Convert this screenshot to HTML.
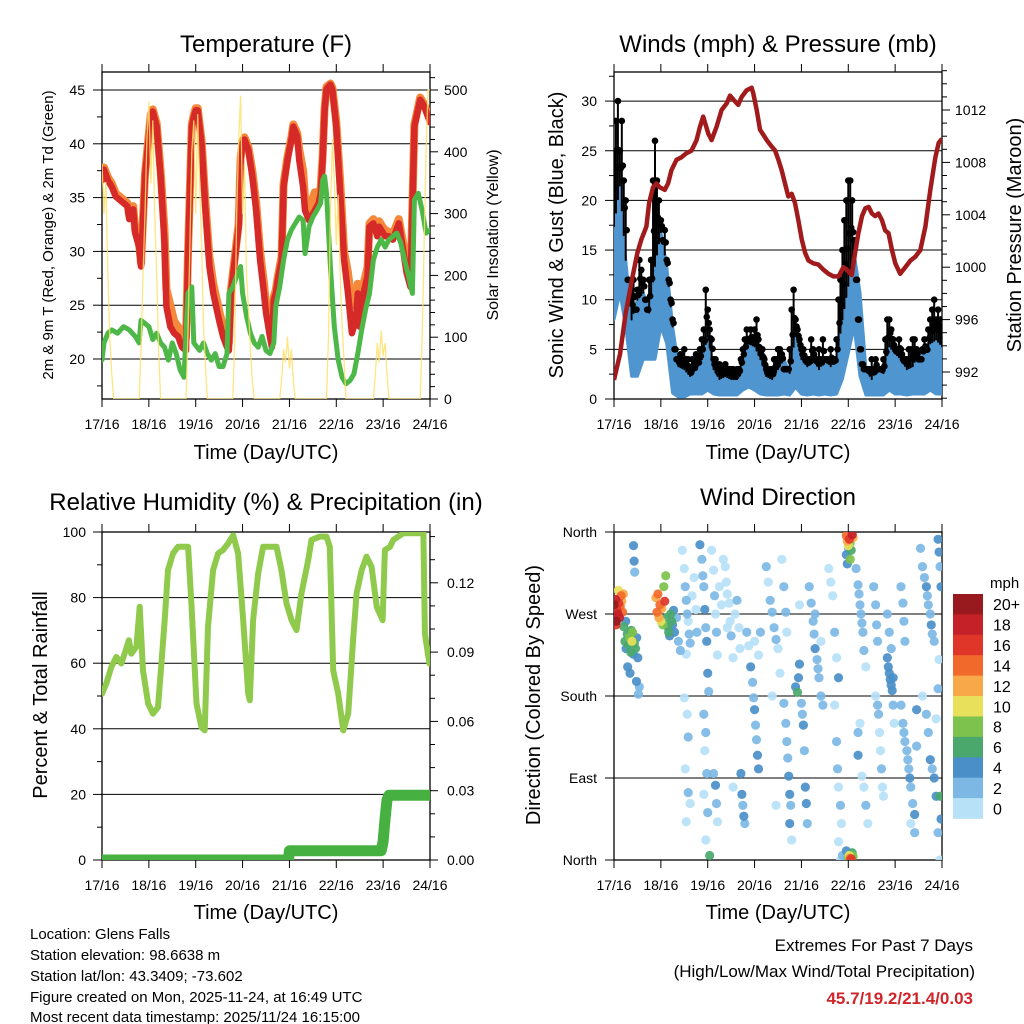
<!DOCTYPE html>
<html><head><meta charset="utf-8"><style>
html,body{margin:0;padding:0;background:#fff;}
svg{display:block;font-family:"Liberation Sans",Arial,sans-serif;}
</style></head><body>
<svg id="chart" xmlns="http://www.w3.org/2000/svg" width="1024" height="1024" viewBox="0 0 1024 1024">
<rect x="0" y="0" width="1024" height="1024" fill="#fff"/>
<defs>
<clipPath id="c1"><rect x="102" y="72" width="328" height="327"/></clipPath>
<clipPath id="c2"><rect x="614" y="72" width="328" height="327"/></clipPath>
<clipPath id="c3"><rect x="102" y="532" width="328" height="328"/></clipPath>
<clipPath id="c4"><rect x="614" y="532" width="328" height="328"/></clipPath>
</defs>
<g font-size="24" text-anchor="middle" fill="#000">
<text x="266" y="52">Temperature (F)</text>
<text x="778" y="52">Winds (mph) &amp; Pressure (mb)</text>
<text x="266" y="510">Relative Humidity (%) &amp; Precipitation (in)</text>
<text x="778" y="505">Wind Direction</text>
</g>
<g font-size="20" text-anchor="middle">
<text x="266" y="459">Time (Day/UTC)</text>
<text x="778" y="459">Time (Day/UTC)</text>
<text x="266" y="919">Time (Day/UTC)</text>
<text x="778" y="919">Time (Day/UTC)</text>
<text transform="translate(48,235) rotate(-90)" dy="5" font-size="15">2m &amp; 9m T (Red, Orange) &amp; 2m Td (Green)</text>
<text transform="translate(492,235) rotate(-90)" dy="6" font-size="16">Solar Insolation (Yellow)</text>
<text transform="translate(556,235) rotate(-90)" dy="7">Sonic Wind &amp; Gust (Blue, Black)</text>
<text transform="translate(1014,235) rotate(-90)" dy="7">Station Pressure (Maroon)</text>
<text transform="translate(40,695) rotate(-90)" dy="7">Percent &amp; Total Rainfall</text>
<text transform="translate(533,695) rotate(-90)" dy="7">Direction (Colored By Speed)</text>
</g>
<g font-size="15">
<text x="30" y="939">Location: Glens Falls</text>
<text x="30" y="960">Station elevation: 98.6638 m</text>
<text x="30" y="981">Station lat/lon: 43.3409; -73.602</text>
<text x="30" y="1002">Figure created on Mon, 2025-11-24, at 16:49 UTC</text>
<text x="30" y="1022">Most recent data timestamp: 2025/11/24 16:15:00</text>
</g>
<g font-size="17" text-anchor="end">
<text x="973" y="951">Extremes For Past 7 Days</text>
<text x="975" y="977">(High/Low/Max Wind/Total Precipitation)</text>
<text x="973" y="1004" fill="#d0262b" font-weight="bold">45.7/19.2/21.4/0.03</text>
</g>
</svg>
<script>
// ---------- data ----------
const dayTickLabels = ["17/16","18/16","19/16","20/16","21/16","22/16","23/16","24/16"];
const tempTickLabels = [20,25,30,35,40,45];
const solarTickLabels = [0,100,200,300,400,500];
const windTickLabels = [0,5,10,15,20,25,30];
const pressTickLabels = [992,996,1000,1004,1008,1012];
const rhTickLabels = [0,20,40,60,80,100];
const rainTickLabels = [0.00,0.03,0.06,0.09,0.12];
const dirTickLabels = ["North","East","South","West","North"];
const speedBinLabels = ["0","2","4","6","8","10","12","14","16","18","20+"];
const speedBinColors = ["#b6e1f7","#7db8e5","#4a8fc8","#4aa86d","#7dc24c","#e8e05a","#f8a848","#f26a2b","#e0362a","#c42128","#981a1e"];

const redHours = [0,1,3,5,7,9,11,13,14,16,17,19,20,22,24,25,26,28,30,32,33,35,37,39,41,43,44,46,47,48,49,51,53,55,57,60,62,64,65,66,68,70,71,72,73,75,77,79,81,83,84,86,87,88,89,90,92,93,95,97,98,100,101,103,104,106,108,109,111,112,113,114,115,117,118,120,122,124,126,128,130,131,132,134,136,137,139,141,142,144,145,147,149,152,154,156,158,160,163,165,168];
const redTemps = [36.6,37.6,36.6,36,35.1,34.8,34.5,34.2,33,33.9,31.7,30.4,28.6,37,40.7,42.5,43,41.6,37,30.8,24.9,23,22.4,22.1,21.1,20.8,29.2,41.6,42.5,43.1,43.1,40,33.8,28.6,26.1,23.6,22.1,21.1,20.8,26.1,29.2,32.3,38.5,40,40.4,39.4,37,33.8,29.2,26.1,24.3,22.1,21.1,25.5,26.1,27.3,29.2,36,38.5,40.4,41.6,40.7,38.5,36,33.8,32.9,33.5,33.8,34.5,35.4,38.5,43.1,45.1,45.5,45,41.6,35.4,29.2,26.1,22.4,23.6,26.1,23,26.1,27.7,32.3,32.6,31.4,32.3,31.7,31.4,31.4,31.1,32.6,30.4,28,26.7,41.6,44.1,43.5,42];
const orangeTemps = [36.9,37.8,36.9,36.3,35.4,35.1,34.8,34.5,33.3,34.2,32,30.7,28.9,37.2,41,42.7,43.2,41.9,37.5,32,26.5,25,23.5,23,22.5,22,29.5,41.8,42.7,43.3,43.3,40.3,34.5,29.5,27,24.5,23,22,21.5,26.4,29.5,32.6,38.7,40.2,40.6,39.7,37.5,34.5,30,27,25,23,22,25.8,26.4,27.6,29.5,36.3,38.8,40.6,41.8,41,39.5,37.5,35,34,35,35.5,35,36,38.8,43.3,45.3,45.6,45.2,42,36.5,30,28,25,25,27,25.5,27,28.5,32.6,33,32,32.8,32.2,32,31.8,31.6,33,31,29,27,41.8,44.3,43.7,42.2];
const dewHours = [0,1,3,5,8,11,14,17,19,20,22,24,26,28,30,32,34,36,38,40,42,44,46,47,50,52,54,56,58,60,62,64,65,67,69,71,72,74,76,78,80,82,84,86,88,89,91,93,95,97,99,101,103,104,106,108,110,112,113,114,115,117,119,121,123,125,127,129,131,133,135,137,139,141,143,145,147,149,151,153,155,157,159,160,162,164,166,168];
const dewTemps = [19.9,21.5,22.4,22.7,22.4,23,22.7,22.1,21.5,23.6,23.3,23,21.8,22.4,21.5,21.1,19.9,21.5,20.5,19,18.3,26.1,26.7,21.5,20.8,21.5,20.5,19.9,20.5,19.3,19.3,20.5,26.1,26.7,27.7,28.6,26.1,24,22.4,21.5,21.1,22.1,20.8,20.5,21.5,24.9,26.7,29.2,31.1,32,32.6,33.2,32.9,29.8,32.3,33.2,33.8,34.5,36.6,37,35.4,28.6,23,19.9,18.3,17.7,18,18.6,20.5,22.7,24.6,26.1,29.2,30.4,31.1,30.4,31.1,31.4,31.7,30.8,29.2,27.7,26.1,34.8,35.4,33.8,31.7,32];
const solarHours = [0,1,2,3,4,5,6,19,20,21,22,23,24,25,26,27,28,29,30,43,44,45,46,47,48,49,50,51,52,53,54,67,68,69,70,71,72,73,74,75,76,77,78,91,92,93,94,95,96,97,98,99,115,116,117,118,119,120,121,122,123,124,125,139,140,141,142,143,144,145,146,147,163,164,165,166,167,168];
const solarVals = [380,300,350,200,100,40,0,0,80,200,300,420,480,350,450,300,200,80,0,0,100,250,400,450,300,460,350,250,120,50,0,0,100,300,420,490,300,380,200,150,80,30,0,0,30,80,60,100,50,80,30,0,0,100,300,420,350,250,330,200,120,60,0,0,40,90,60,110,70,90,40,0,0,100,250,400,500,500];

const windHours = [0,3,6,9,12,15,18,21,24,27,30,33,36,39,42,45,48,51,54,57,60,63,66,69,72,75,78,81,84,87,90,93,96,99,102,105,108,111,114,117,120,123,126,129,132,135,138,141,144,147,150,153,156,159,162,165,168];
const windHi = [17.4,21.5,14,8,10,10.7,8.7,13.4,16.8,13.4,7.3,3.3,3,2.3,3,4,6.3,3,2,2.3,2,2,4,5.6,5.3,4,2.3,2,3,4,2.6,6.6,4,3.3,4,3,4,3.3,4,8,11.4,14.7,10.7,3,2,3.3,2.6,5.3,4.6,4,3,3.3,4.6,4.6,5.6,6,5.3];
const windLo = [8,10.7,7.3,2.3,2.3,4,4,4,7.3,5.6,0.6,0.2,0.2,0.5,0.5,0.5,0.9,0.5,0.4,0.4,0.4,0.4,0.9,1.2,0.9,0.5,0.4,0.4,0.4,0.5,0.4,1.2,0.5,0.4,0.5,0.4,0.5,0.4,0.5,2,4.6,7.3,2.3,0.4,0.4,0.4,0.4,0.9,0.5,0.5,0.4,0.5,0.5,0.5,0.9,0.5,0.5];
const gustHourly = [25,28,30,25,28,22,20, 12,10,11,12,9,11, 14,13,12,10,9,12, 14,22,26,22,20,18, 16,17,14,12,10,8, 5,4,4,4.5,4,5, 4,4,3,4,3.5,4.5, 4,5,6,7,11,9, 7,6,4,4,3,3.5, 3,3,3.5,3,3,3, 3,2.5,3,3,4,5, 6,7,6,7,6,7, 8,6,5,5,4,3, 3,3,3,4,4,5, 5,4.5,3,3,3,5, 9,11,8,7,6,5, 5,4,4,4,6,5, 4,4,5,4,6,4, 4,4,5,4,4,6, 10,12,15,18,20,22, 22,20,16,12,8,5, 3.5,3,3,3,3,4, 3,4,3,3,3,4, 6,8,8,7,6,5, 5,6,5,4,4,4, 5,5,6,6,5,4, 4,5,6,5,7,8, 9,10,8,9,8,7];
const pressHours = [0,3.1,6,9.1,12,14,16.6,18,20,21.7,23.4,26,27.7,29.4,32,34.6,37.1,39.7,42.3,44,45.7,48.3,50,52.5,55.1,57.7,59.4,61.1,63.6,65.4,67.9,70.5,71.3,73.1,74.8,76.5,78.2,80.8,82.5,84.2,85.9,87.6,89.3,91,92.7,94.4,96.2,97.9,99.6,102.1,104.7,107.3,109.8,112.4,115,117.5,119.3,121.8,123.5,125.2,127,128.7,130.4,132.1,133.8,135.5,137.2,138.9,140.6,142.4,144.1,146.6,149.2,151.8,154.3,156.9,159.5,162,164.6,166.3,168];
const pressVals = [991.4,993.4,996.5,999,1001.1,1002.1,1003.1,1004.9,1006.1,1006.4,1006.1,1005.9,1006.4,1007.4,1008.2,1008.4,1008.7,1008.9,1009.7,1010.7,1011.5,1010.2,1009.7,1010.7,1012,1012.5,1013.1,1012.8,1012.4,1013,1013.5,1013.7,1013.3,1012,1010.5,1010.1,1009.7,1009.2,1008.9,1008.2,1007.4,1006.4,1005.4,1005.6,1004.9,1003.6,1002.1,1001.1,1000.5,1000.3,1000.2,999.8,999.5,999.3,999.3,1000,999.8,999.4,1001.1,1002.6,1003.9,1004.5,1004.6,1004.1,1003.9,1004.1,1003.6,1002.8,1002.6,1001.3,1000.3,999.5,1000,1000.5,1000.8,1001.3,1003.1,1005.9,1008.4,1009.5,1009.8];

const rhHours = [0,2.2,4.8,7.3,9.9,11.6,13.8,15,17.6,19.3,21,23.6,26.1,28.7,30.4,32.1,33.8,36.4,38.9,41.5,44.1,45.8,48.4,50.9,52.6,54.3,56.9,59.5,62,64.6,67.2,69.7,72.3,74.9,75.7,77.4,80,82.5,86,89.4,91.9,94.5,97.1,99.6,102.2,105.6,107.3,111.6,115,116.7,118.4,121,123.6,126.1,128.7,130.4,133,135.5,138.1,140.7,143.7,144.9,147.5,149.2,154.3,159.4,162.9,164.6,165.4,167.7];
const rhVals = [50.7,53.8,58.9,61.9,59.9,62.9,67,62.9,65,77.2,57.8,47.7,44.6,46.6,59.9,73.1,88.4,93.5,95.5,95.5,95.5,78.2,47.7,40.5,39.5,71.1,88.4,93.5,94.5,96.5,99,93.5,73.1,50.7,48.7,73.1,87.4,95.5,95.5,95.5,88.4,78.2,73.1,70.1,81.3,91.4,97.6,98.6,98.6,95.5,57.8,50.7,39.5,44.6,68,81.3,88.4,92.5,89.4,77.2,73.1,94.5,95.5,97.6,99.6,99.6,99.6,99.6,69,59.9];
const rainHours = [0,95.5,96,143,144,145,146,147,168];
const rainVals = [0,0,0.004,0.004,0.008,0.018,0.026,0.028,0.028];

// wind direction observations: [hour, degrees, mph]
const dirObs = [
[0,280,20],[0.4,268,19],[0.8,286,18],[1.2,262,20],[1.6,274,17],[2,270,18],[2.4,282,16],[2.8,266,19],[3.2,278,15],[3.6,290,14],[4,284,13],[4.4,272,14],[4.8,292,12],[1,258,16],[2.2,296,11],
[5,256,7],[5.6,240,6],[6.2,232,5],[6.8,248,6],[7.4,236,7],[8,244,8],[8.6,228,6],[9.2,240,10],[9.8,226,5],[10.4,238,6],[11,232,7],[11.6,244,5],[12.2,222,4],[7,212,4],[8.2,205,4],[9.5,250,9],[10,345,4],[10.3,328,4],[10.6,316,3],[11.5,196,4],[12.5,182,3],[13,190,3],[6,262,5],[8.8,252,7],
[21.5,288,12],[22,272,14],[22.5,292,14],[23,266,13],[23.5,280,15],[24,262,10],[24.5,276,12],[25,258,9],[25.5,300,8],[26,284,16],[26.5,312,8],[27,266,6],[27.5,256,6],[28,250,6],[28.5,246,5],[29,270,6],[29.5,262,7],[30,258,5],[30.5,274,4],[31,250,4],[32,266,3],[33,240,3],[34,230,2],
[35,340,1],[36,320,1],[36.5,300,2],[37,285,3],[37.5,270,2],[38,262,1],[38.5,248,2],[39,238,3],[37,226,1],[36,178,1],[37.5,160,1],[38,135,2],[36.5,100,1],[38,74,3],[39,62,1],[37,42,1],[40,290,1],[41,310,0],[42,275,1],[42.5,250,2],
[44,346,4],[45,330,3],[45.5,312,2],[46,300,3],[46.5,275,4],[47,255,3],[47.5,240,4],[48,205,4],[48.5,185,3],[46,160,2],[47,140,2],[46.5,120,1],[47.5,95,3],[46,72,1],[48,52,2],[47,22,1],[49,5,6],
[50,340,1],[51,318,1],[51.5,290,2],[52,270,1],[52.5,250,2],[53,225,1],[51,95,3],[52,82,4],[52.5,62,3],[53,42,1],[54,300,1],[55,280,0],
[56,330,0],[57,322,1],[57.5,305,0],[58,292,1],[59,282,0],[59.5,262,1],[60,246,2],[61,222,1],[58,255,0],[61,80,1],[62,270,1],
[63,285,2],[64,255,1],[64.5,232,1],[65,95,4],[65.5,72,4],[66,60,3],[66.5,48,4],[67,40,2],[68,250,2],[69,235,1],
[70,212,4],[71,195,3],[71.5,178,2],[72,165,4],[72.5,148,2],[73,132,3],[73.5,115,4],[74,100,4],[72,240,1],[74,225,1],[75,250,2],
[78,322,2],[79,305,1],[80,285,3],[81,272,2],[82,255,3],[83,242,2],[84,232,1],[85,205,1],[81,180,0],[83,60,0],
[86,330,1],[87,300,2],[88,272,3],[88.5,250,1],[87,172,2],[88,150,2],[88.5,130,3],[89,112,2],[89.5,92,4],[90,72,4],[90.5,60,3],[90,40,4],[91,22,1],
[93,190,5],[94,184,6],[94.5,200,4],[95,215,5],[96,172,3],[96.5,160,2],[97,148,4],[97.5,120,3],[98,80,4],[98.5,62,4],[99,40,2],[95,280,1],
[100,300,2],[101,282,3],[102,262,3],[102.5,248,2],[103,232,4],[104,220,3],[104.5,210,2],[105,200,3],[106,180,2],[107,170,2],[103,270,2],[106,240,1],
[110,320,1],[111,305,1],[112,290,1],[113,250,2],[114,222,1],[115,200,4],[113,170,1],[114,130,2],[114.5,100,2],[115,80,1],[116,60,2],[116.5,40,1],[115,20,1],[117,5,2],[116,0,1],
[119,356,14],[119.5,350,12],[120,345,10],[120.5,352,16],[121,348,8],[121.5,340,6],[119,335,4],[121,330,8],[122,357,18],[122.5,354,13],[120,342,3],[119.5,325,4],
[120,3,8],[120.5,5,10],[121,2,14],[121.5,1,16],[122,8,6],[119,10,4],[122.5,4,9],[118.5,2,2],
[124,320,3],[125,302,2],[125.5,292,3],[126,280,2],[126.5,270,3],[127,260,2],[127.5,250,3],[128,230,2],[129,212,1],[127,92,1],[128,80,1],[129,60,2],[130,40,1],[126,150,1],[125,115,4],[125,140,2],
[133,300,3],[134,280,2],[134.5,258,3],[135,240,2],[134,180,1],[135,170,3],[135.5,160,2],[136,140,1],[136.5,120,1],[137,100,2],[137.5,80,1],[138,70,1],
[140,222,4],[140.5,212,5],[141,205,4],[141.5,198,4],[142,192,5],[142.5,186,4],[141,250,3],[142,232,3],[143,170,2],[143.5,150,1],[140,270,3],[143,200,5],
[147,300,2],[148,282,3],[148.5,262,3],[149,240,2],[147,170,2],[148,150,3],[148.5,140,3],[149,130,3],[150,120,3],[150.5,110,3],[151,100,3],[151.5,90,4],[152,80,3],[153,62,2],[154,50,4],[152,40,1],[154,30,2],[155,165,4],[155,125,3],
[157,342,3],[158,322,2],[159,310,3],[160,300,4],[160.5,290,3],[161,280,2],[162,270,3],[162.5,258,4],[163,248,2],[164,240,3],[158,180,1],[160,160,2],[161,140,2],[162,110,4],[163,100,3],[164,90,4],[165,70,4],[166,30,3],[167,0,1],[166,352,5],[166.5,338,4],[167,322,2],[167.5,300,5],[166,188,2],[165,155,1],[166.5,220,1],[167.5,45,4],[167,70,7]
];
const dirHours = dirObs.map(p => p[0]);
const dirDegrees = dirObs.map(p => p[1]);
const dirSpeeds = dirObs.map(p => p[2]);

// ---------- scales ----------
const X1 = h => 102 + h / 168 * 328;
const X2 = h => 614 + h / 168 * 328;
const yTemp = v => 359 - (v - 20) * 10.76;
const ySolar = v => 399 - v * 0.618;
const yWind = v => 399 - v * 9.93;
const yPress = p => 372 - (p - 992) * 13.1;
const yRH = v => 860 - v * 3.28;
const yRain = r => 860 - r / 0.03 * 69.3;
const yDir = d => 860 - d / 360 * 328;

const NS = "http://www.w3.org/2000/svg";
const svg = document.getElementById("chart");
function add(tag, attrs, parent) {
  const e = document.createElementNS(NS, tag);
  for (const k in attrs) e.setAttribute(k, attrs[k]);
  (parent || svg).appendChild(e);
  return e;
}
function pathOf(pts) { return "M" + pts.map(p => p[0].toFixed(1) + "," + p[1].toFixed(1)).join("L"); }
function interp(hs, vs, h) {
  for (let i = 1; i < hs.length; i++) if (h <= hs[i]) { const f = (h - hs[i-1]) / (hs[i] - hs[i-1]); return vs[i-1] + f * (vs[i] - vs[i-1]); }
  return vs[vs.length - 1];
}

function frame(x0, y0, x1, y1, name) {
  const g = add("g", {});
  
  
  const r = add("rect", {x: x0, y: y0, width: x1 - x0, height: y1 - y0, fill: "none", stroke: "#000", "stroke-width": 1.3}, g);
  
  
  return g;
}
function grid(g, x0, x1, y, name) {
  const l = add("line", {x1: x0, x2: x1, y1: y, y2: y, stroke: "#000", "stroke-width": 1}, g);
  
  
}
function tick(g, xa, ya, xb, yb) {
  const l = add("line", {x1: xa, y1: ya, x2: xb, y2: yb, stroke: "#000", "stroke-width": 1}, g);
  
  
}
function label(g, x, y, txt, anchor, name, size) {
  const t = add("text", {x: x, y: y, "text-anchor": anchor, "font-size": size || 14}, g);
  t.textContent = txt;
  
  
}
function xAxis(g, X, yTop, yBot) {
  dayTickLabels.forEach((lab, i) => {
    const x = X(i * 24);
    tick(g, x, yBot, x, yBot + 8);
    tick(g, x, yTop, x, yTop - 8);
    label(g, x, yBot + 30, lab, "middle", "x-tick-label");
  });
}

// Panel 1
const g1 = frame(102, 72, 430, 399, "temperature-panel");
tempTickLabels.forEach(v => { grid(g1, 102, 430, yTemp(v), "temp-gridline"); tick(g1, 93, yTemp(v), 102, yTemp(v)); label(g1, 85, yTemp(v) + 5, String(v), "end", "temp-y-tick-label"); });
for (let v = 17.5; v <= 46; v += 2.5) if (v % 5) tick(g1, 97, yTemp(v), 102, yTemp(v));
solarTickLabels.forEach(v => { tick(g1, 430, ySolar(v), 438, ySolar(v)); label(g1, 444, ySolar(v) + 5, String(v), "start", "solar-y-tick-label"); });
for (let v = 20; v <= 520; v += 20) if (v % 100) tick(g1, 430, ySolar(v), 435, ySolar(v));
xAxis(g1, X1, 72, 399);
const p1 = add("g", {"clip-path": "url(#c1)", fill: "none", "stroke-linejoin": "round", "stroke-linecap": "round"}, g1);


let el = add("path", {d: pathOf(redHours.map((h, i) => [X1(h), yTemp(orangeTemps[i])])), stroke: "#f5883a", "stroke-width": 8}, p1);


el = add("path", {d: pathOf(redHours.map((h, i) => [X1(h), yTemp(redTemps[i])])), stroke: "#d52a28", "stroke-width": 6.5}, p1);


el = add("path", {d: pathOf(dewHours.map((h, i) => [X1(h), yTemp(dewTemps[i])])), stroke: "#4db848", "stroke-width": 5}, p1);


el = add("path", {d: pathOf(solarHours.map((h, i) => [X1(h), ySolar(solarVals[i])])), stroke: "#ffe06a", "stroke-width": 1.3, opacity: 0.85}, p1);



// Panel 2
const g2 = frame(614, 72, 942, 399, "winds-panel");
windTickLabels.forEach(v => { if (v > 0) grid(g2, 614, 942, yWind(v), "wind-gridline"); tick(g2, 605, yWind(v), 614, yWind(v)); label(g2, 597, yWind(v) + 5, String(v), "end", "wind-y-tick-label"); });
for (let v = 2.5; v < 33; v += 5) tick(g2, 609, yWind(v), 614, yWind(v));
pressTickLabels.forEach(v => { tick(g2, 942, yPress(v), 950, yPress(v)); label(g2, 955, yPress(v) + 5, String(v), "start", "pressure-y-tick-label"); });
for (let v = 990; v <= 1015; v += 1) if ((v - 992) % 4) tick(g2, 942, yPress(v), 947, yPress(v));
xAxis(g2, X2, 72, 399);
const p2 = add("g", {"clip-path": "url(#c2)"}, g2);


const bandPts = windHours.map((h, i) => [X2(h), yWind(windHi[i])]).concat(windHours.map((h, i) => [X2(h), yWind(windLo[i])]).reverse());
el = add("path", {d: pathOf(bandPts) + "Z", fill: "#4f95cf", stroke: "#4f95cf", "stroke-width": 3, "stroke-linejoin": "round"}, p2);


gustHourly.forEach((gv, h) => {
  const hi = interp(windHours, windHi, h);
  const base = Math.min(hi, gv);
  const ln = add("line", {x1: X2(h), x2: X2(h), y1: yWind(base), y2: yWind(gv), stroke: "#000", "stroke-width": 2, "stroke-linecap": "round"}, p2);
  
  
  const c = add("circle", {cx: X2(h), cy: yWind(gv), r: 3.3, fill: "#000"}, p2);
  
  
  const c2 = add("circle", {cx: X2(h + 0.5), cy: yWind((gv + base) / 2), r: 3.3, fill: "#000"}, p2);
  
  
});
el = add("path", {d: pathOf(pressHours.map((h, i) => [X2(h), yPress(pressVals[i])])), fill: "none", stroke: "#a11b1d", "stroke-width": 4.5, "stroke-linejoin": "round"}, p2);



// Panel 3
const g3 = frame(102, 532, 430, 860, "humidity-panel");
rhTickLabels.forEach(v => { if (v > 0 && v < 100) grid(g3, 102, 430, yRH(v), "humidity-gridline"); tick(g3, 93, yRH(v), 102, yRH(v)); label(g3, 86, yRH(v) + 5, String(v), "end", "humidity-y-tick-label"); });
for (let v = 10; v < 100; v += 20) tick(g3, 97, yRH(v), 102, yRH(v));
rainTickLabels.forEach(v => { tick(g3, 430, yRain(v), 438, yRain(v)); label(g3, 447, yRain(v) + 5, v.toFixed(2), "start", "rain-y-tick-label"); });
for (let v = 0.01; v < 0.142; v += 0.01) if (Math.round(v * 100) % 3) tick(g3, 430, yRain(v), 435, yRain(v));
xAxis(g3, X1, 532, 860);
const p3 = add("g", {"clip-path": "url(#c3)", fill: "none", "stroke-linejoin": "round", "stroke-linecap": "round"}, g3);


el = add("path", {d: pathOf(rhHours.map((h, i) => [X1(h), yRH(rhVals[i])])), stroke: "#8fca4d", "stroke-width": 6}, p3);


el = add("path", {d: pathOf(rainHours.map((h, i) => [X1(h), yRain(rainVals[i])])), stroke: "#46b040", "stroke-width": 11}, p3);



// Panel 4
const g4 = frame(614, 532, 942, 860, "wind-direction-panel");
dirTickLabels.forEach((lab, i) => { const y = yDir(i * 90); if (i > 0 && i < 4) grid(g4, 614, 942, y, "direction-gridline"); tick(g4, 605, y, 614, y); label(g4, 597, y + 5, lab, "end", "direction-y-tick-label"); });
xAxis(g4, X2, 532, 860);
const p4 = add("g", {"clip-path": "url(#c4)"}, g4);


const order = dirHours.map((_, i) => i).sort((a, b) => dirSpeeds[a] - dirSpeeds[b]);
order.forEach(i => {
  const bin = Math.min(10, Math.floor(dirSpeeds[i] / 2));
  const c = add("circle", {cx: X2(dirHours[i]), cy: yDir(dirDegrees[i]), r: 4.6, fill: speedBinColors[bin], opacity: 0.92}, p4);
  
  
});

// Colorbar
const cb = add("g", {});


label(cb, 990, 588, "mph", "start", "colorbar-unit-label", 15);
const boxH = 224.5 / speedBinColors.length;
for (let k = 0; k < speedBinColors.length; k++) {
  const idx = speedBinColors.length - 1 - k;
  const y = 594 + k * boxH;
  const r = add("rect", {x: 953, y: y, width: 30, height: boxH + 0.3, fill: speedBinColors[idx]}, cb);
  
  
  label(cb, 993, y + boxH / 2 + 6, speedBinLabels[idx], "start", "colorbar-label", 16);
}
</script>
</body></html>
